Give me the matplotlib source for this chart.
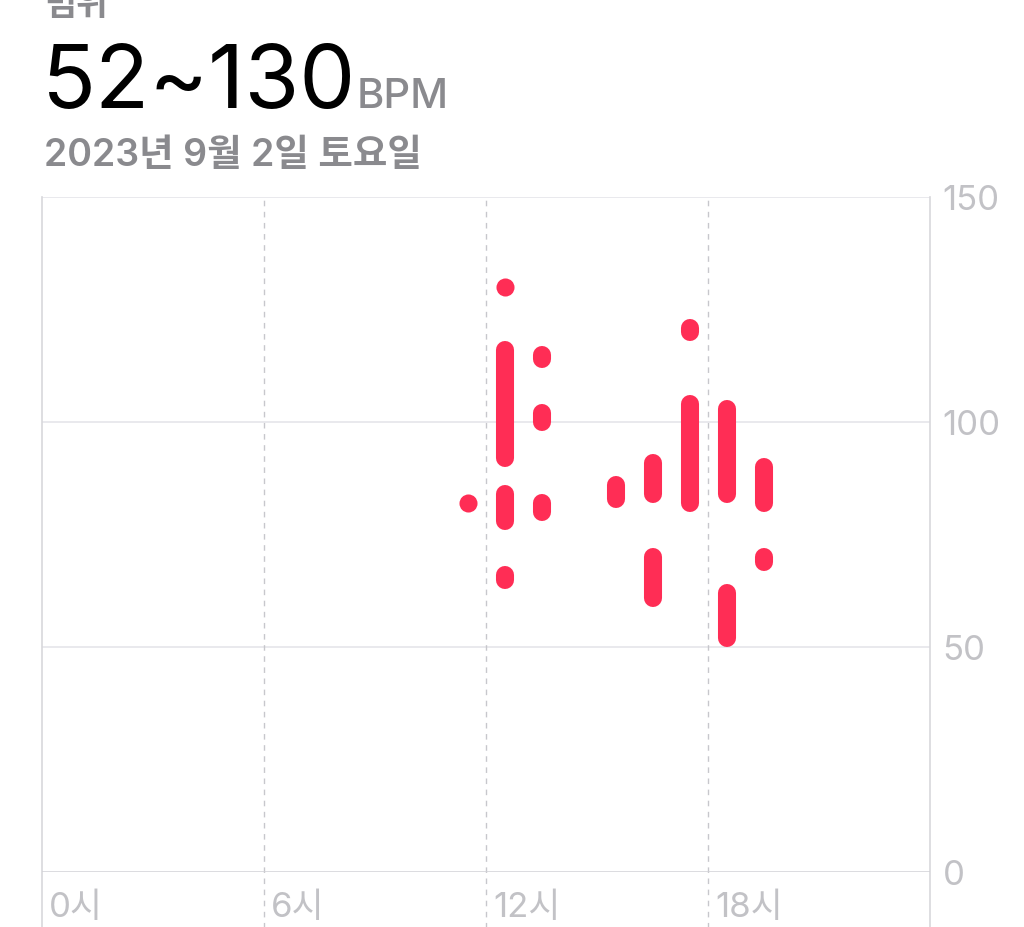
import matplotlib
matplotlib.use("Agg")
import matplotlib.pyplot as plt

plt.rcParams['font.family'] = ['Inter', 'Noto Sans CJK KR', 'DejaVu Sans']

# heart rate ranges per half-hour slot (hour of day, low bpm, high bpm)
hours = [11.5, 12.5, 12.5, 12.5, 12.5, 13.5, 13.5, 13.5, 15.5,
         16.5, 16.5, 17.5, 17.5, 18.5, 18.5, 19.5, 19.5]
low = [82, 130, 92, 78, 65, 114, 100, 80, 83,
       84, 61, 120, 82, 84, 52, 82, 69]
high = [82, 130, 116, 84, 66, 115, 102, 82, 86,
        91, 70, 121, 104, 103, 62, 90, 70]

x_ticks = [0, 6, 12, 18]
x_labels = ['0시', '6시', '12시', '18시']
y_ticks = [0, 50, 100, 150]

title_label = '범위'
range_text = '52~130'
unit_text = 'BPM'
date_text = '2023년 9월 2일 토요일'

red = '#FF2D55'
grey_text = '#8A8A8E'
axis_text = '#C2C2C6'

W, H = 1024, 928
fig = plt.figure(figsize=(W / 100, H / 100), dpi=100)
ax = fig.add_axes([42 / W, 55 / H, 888 / W, 675 / H])
ax.set_xlim(0, 24)
ax.set_ylim(0, 150)
for s in ax.spines.values():
    s.set_visible(False)
ax.set_xticks([])
ax.set_yticks([])

# horizontal grid
for v in y_ticks[1:]:
    ax.axhline(v, color='#E5E5EA', lw=1.2, zorder=0)
ax.axhline(0, color='#D1D1D6', lw=1.8, zorder=1)

# vertical lines, running down past the axis into the label area
ext = -60 / 675
ax.axvline(0, ymin=ext, ymax=1, color='#D8D8DC', lw=1.2, clip_on=False, zorder=0)
ax.axvline(24, ymin=ext, ymax=1, color='#D8D8DC', lw=1.2, clip_on=False, zorder=0)
for h in x_ticks[1:]:
    ax.axvline(h, ymin=ext, ymax=1, color='#C7C7CC', lw=1.0, ls=(0, (4, 4)),
               clip_on=False, zorder=0)

# capsules
for h, lo, hi in zip(hours, low, high):
    if lo == hi:
        ax.plot(h, lo, 'o', ms=13, color=red, mec='none', zorder=3)
    else:
        ax.plot([h, h], [lo, hi], color=red, lw=13, solid_capstyle='round', zorder=3)

for h, lab in zip(x_ticks, x_labels):
    ax.annotate(lab, (h, 0), xycoords=('data', 'axes fraction'),
                xytext=(5, -14), textcoords='offset points',
                ha='left', va='top', fontsize=25, color=axis_text)
for v in y_ticks:
    ax.annotate(str(v), (1, v), xycoords=('axes fraction', 'data'),
                xytext=(9, -2), textcoords='offset points',
                ha='left', va='center', fontsize=25, color=axis_text)

# header
fig.text(44 / W, 1 - 15 / H, title_label, fontsize=25, color=grey_text,
         fontweight='semibold', va='baseline')
fig.text(42 / W, 1 - 108 / H, range_text, fontsize=64, color='black', va='baseline')
fig.text(357 / W, 1 - 108 / H, unit_text, fontsize=30, color=grey_text,
         fontweight='medium', va='baseline')
fig.text(44 / W, 1 - 166 / H, date_text, fontsize=27, color=grey_text,
         fontweight='semibold', va='baseline')

fig.savefig('out.png', dpi=100, facecolor='white')
